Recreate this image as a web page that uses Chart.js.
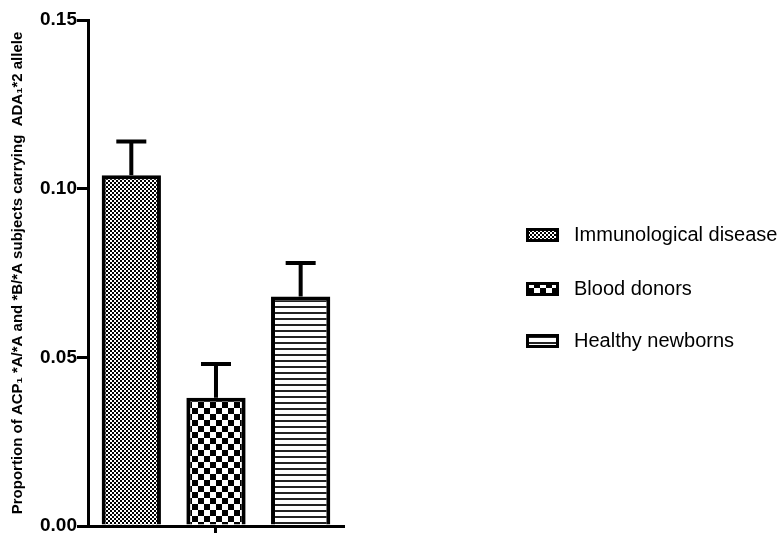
<!DOCTYPE html>
<html>
<head>
<meta charset="utf-8">
<script src="https://cdn.jsdelivr.net/npm/chart.js@4.4.1/dist/chart.umd.min.js"></script>
<style>
  html, body { margin: 0; padding: 0; background: #fff; }
  #wrap { width: 778px; height: 533px; }
</style>
</head>
<body>
<div id="wrap"><canvas id="chart"></canvas></div>
<script>
const groupLabels = ['Immunological disease', 'Blood donors', 'Healthy newborns']
const means = [0.104, 0.038, 0.068]
const sems = [0.010, 0.010, 0.010]
const yTicks = [0, 0.05, 0.10, 0.15]

function makePattern (kind) {
  const c = document.createElement('canvas')
  const g = c.getContext('2d')
  if (kind === 'fine') {
    c.width = 4; c.height = 4
    g.fillStyle = '#fff'; g.fillRect(0, 0, 4, 4)
    g.fillStyle = '#000'
    g.fillRect(0, 0, 2, 2); g.fillRect(2, 2, 2, 2)
  } else if (kind === 'coarse') {
    c.width = 12; c.height = 12
    g.fillStyle = '#fff'; g.fillRect(0, 0, 12, 12)
    g.fillStyle = '#000'
    g.fillRect(0, 0, 6, 6); g.fillRect(6, 6, 6, 6)
  } else {
    c.width = 6; c.height = 6
    g.fillStyle = '#fff'; g.fillRect(0, 0, 6, 6)
    g.fillStyle = '#222'
    g.fillRect(0, 0, 6, 2)
  }
  return g.createPattern(c, 'repeat')
}

const fills = [makePattern('fine'), makePattern('coarse'), makePattern('lines')]

// upper error bars only, like the original
const errorBars = {
  id: 'errorBars',
  afterDatasetsDraw (chart) {
    const ctx = chart.ctx
    const y = chart.scales.y
    ctx.save()
    ctx.strokeStyle = '#000'
    ctx.lineWidth = 4
    chart.data.datasets.forEach((ds, i) => {
      const bar = chart.getDatasetMeta(i).data[0]
      const top = y.getPixelForValue(ds.data[0] + ds.err)
      ctx.beginPath()
      ctx.moveTo(bar.x, bar.y)
      ctx.lineTo(bar.x, top)
      ctx.moveTo(bar.x - 15, top)
      ctx.lineTo(bar.x + 15, top)
      ctx.stroke()
    })
    ctx.restore()
  }
}

const sideLegend = {
  id: 'sideLegend',
  afterDraw (chart) {
    const ctx = chart.ctx
    const rows = [235, 289, 341]
    ctx.save()
    chart.data.datasets.forEach((ds, i) => {
      const yc = rows[i]
      ctx.fillStyle = ds.backgroundColor
      ctx.fillRect(527, yc - 6, 31, 12)
      ctx.lineWidth = 3
      ctx.strokeStyle = '#000'
      ctx.strokeRect(527.5, yc - 5.5, 30, 11)
      ctx.fillStyle = '#000'
      ctx.font = '20px "Liberation Sans", Arial, sans-serif'
      ctx.textBaseline = 'middle'
      ctx.fillText(ds.label, 574, yc)
    })
    ctx.restore()
  }
}

new Chart(document.querySelector('#chart'), {
  type: 'bar',
  plugins: [errorBars, sideLegend],
  data: {
    labels: [''],
    datasets: groupLabels.map((name, i) => ({
      label: name,
      data: [means[i]],
      err: sems[i],
      backgroundColor: fills[i],
      borderColor: '#000',
      borderWidth: 4,
      borderSkipped: 'bottom',
      categoryPercentage: 1.0,
      barPercentage: 0.7
    }))
  },
  options: {
    responsive: true,
    maintainAspectRatio: false,
    animation: false,
    layout: {
      padding: { top: 20, right: 435, bottom: 0, left: 0 }
    },
    scales: {
      x: {
        afterFit: (axis) => { axis.height = 7 },
        border: { color: '#000', width: 3 },
        grid: {
          offset: false,
          drawOnChartArea: false,
          drawTicks: true,
          tickLength: 9,
          color: '#000',
          lineWidth: 3
        },
        ticks: { display: false }
      },
      y: {
        min: 0,
        max: 0.15,
        afterBuildTicks: (axis) => {
          axis.ticks = yTicks.map(v => ({ value: v }))
        },
        // let the 0.00 label run off the bottom edge as in the original
        afterFit: (axis) => { axis.paddingBottom = 0 },
        border: { color: '#000', width: 3 },
        grid: {
          drawOnChartArea: false,
          drawTicks: true,
          tickLength: 12,
          color: '#000',
          lineWidth: 3
        },
        ticks: {
          color: '#000',
          padding: 0,
          font: { family: '"Liberation Sans", Arial, sans-serif', size: 19, weight: 'bold' },
          callback: (v) => v.toFixed(2)
        },
        title: {
          display: true,
          text: 'Proportion of ACP\u2081 *A/*A and *B/*A subjects carrying  ADA\u2081*2 allele',
          color: '#000',
          padding: { top: 9, bottom: 13 },
          font: { family: '"Liberation Sans", Arial, sans-serif', size: 15, weight: 'bold' }
        }
      }
    },
    plugins: {
      legend: { display: false },
      tooltip: { enabled: false }
    }
  }
})
</script>
</body>
</html>
